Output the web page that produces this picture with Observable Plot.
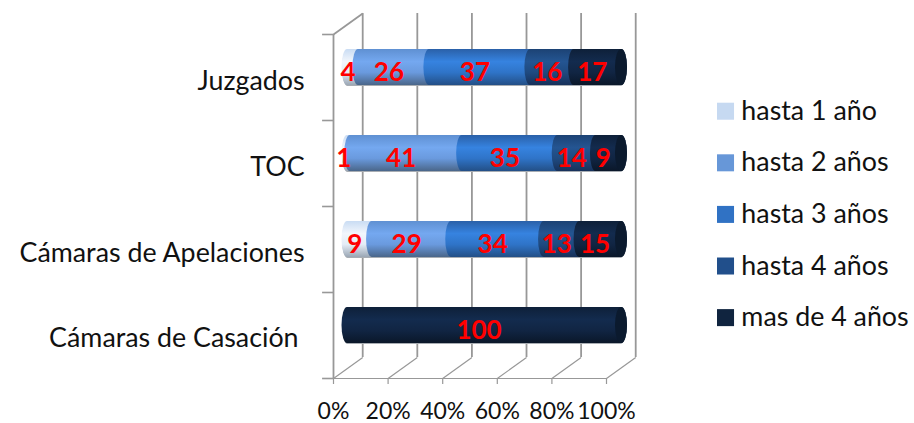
<!DOCTYPE html>
<html><head><meta charset="utf-8">
<script src="https://cdn.jsdelivr.net/npm/d3@7"></script>
<script src="https://cdn.jsdelivr.net/npm/@observablehq/plot@0.6"></script>
<style>html,body{margin:0;padding:0;background:#fff}svg{display:block;overflow:visible}</style>
</head><body><div id="chart"></div>
<script>
const categories = ["Cámaras de Casación","Cámaras de Apelaciones","TOC","Juzgados"];
const seriesNames = ["hasta 1 año","hasta 2 años","hasta 3 años","hasta 4 años","mas de 4 años"];
const hasta1 = [0,9,1,4];
const hasta2 = [0,29,41,26];
const hasta3 = [0,34,35,37];
const hasta4 = [0,13,14,16];
const mas4   = [100,15,9,17];
const seriesValues = [hasta1,hasta2,hasta3,hasta4,mas4];
const swatchColors = ["#c6d9f1","#6797d8","#3072c4","#214f8b","#10243f"];
const gradients = [
  ["#c9dcf3","#f2f6fc","#e4ecf6","#9aa6b4"],
  ["#5f90d2","#74a8f0","#6a9ade","#4a6689"],
  ["#2a60a8","#3683e0","#2f74c8","#234f86"],
  ["#1c4274","#245592","#1f4a80","#17315a"],
  ["#0e2039","#132b4e","#112543","#0a1729"]
];
const capColor = "#0b1a2e";
const xTicks = [0,20,40,60,80,100];
const rowTicks = [0,1,2,3,4];

const depthX = 10.7, depthY = 0.244;
const segs = seriesNames.map((s,si)=>{
  const out=[];
  categories.forEach((c,ci)=>{
    const v=seriesValues[si][ci];
    if(v>0){
      let a=0; for(let k=0;k<si;k++) a+=seriesValues[k][ci];
      out.push({row:ci,start:a,end:a+v,value:v,series:s});
    }
  });
  return out;
});
const barOpts = {x1:"start",x2:"end",y1:d=>d.row+0.29,y2:d=>d.row+0.71,dx:14,dy:-10,
  insetLeft:-5.5,insetRight:-5.5,rx:5.5,ry:18};
const rows = categories.map((c,i)=>({row:i,name:c}));
const gridColor="#989898";
const font="Lato, Carlito, sans-serif";

const marks=[
  Plot.ruleX(xTicks,{x:d=>d+depthX,y1:depthY,y2:4+depthY,stroke:gridColor,strokeWidth:1.8,strokeOpacity:1}),
  Plot.link(xTicks,{x1:d=>d,y1:0,x2:d=>d+depthX,y2:depthY,stroke:gridColor,strokeWidth:1.2,strokeOpacity:1}),
  Plot.ruleX([0],{y1:0,y2:4,stroke:gridColor,strokeWidth:1.8,strokeOpacity:1}),
  Plot.link([0],{x1:0,y1:4,x2:depthX,y2:4+depthY,stroke:gridColor,strokeWidth:1.8,strokeOpacity:1}),
  Plot.ruleY([0],{x1:0,x2:100,stroke:gridColor,strokeWidth:1.2,strokeOpacity:1}),
  Plot.ruleX(xTicks,{x:d=>d,y1:0,y2:-0.07,stroke:gridColor,strokeWidth:1.2,strokeOpacity:1}),
  Plot.ruleY(rowTicks,{x1:-4,x2:0,stroke:gridColor,strokeWidth:1.6,strokeOpacity:1}),
  Plot.rect(rows,{x1:()=>0,x2:()=>100,y1:d=>d.row+0.29,y2:d=>d.row+0.71,dx:14,dy:-9,insetLeft:-5,insetRight:-6,rx:5.5,ry:18,fill:"#a8adb3"}),
];
segs.forEach((data,i)=>{
  marks.push(Plot.rect(data,{...barOpts,insetRight:i===4?-7:-5.5,fill:`url(#grad${i})`}));
});
marks.push(Plot.rect(rows,{x1:()=>100,x2:()=>100,y1:d=>d.row+0.29,y2:d=>d.row+0.71,dx:15,dy:-10,insetLeft:-6,insetRight:-6,rx:6,ry:18,fill:capColor}));
marks.push(Plot.text(segs.flat(),{x:d=>(d.start+d.end)/2,y:d=>d.row+0.5,text:d=>String(d.value),dx:9,dy:-4.5,
  fill:"#ff0000",fontSize:26,fontWeight:700,fontFamily:font,textAnchor:"middle",lineAnchor:"middle"}));
marks.push(Plot.text(rows.filter(d=>d.row>0),{x:()=>-10.6,y:d=>d.row+0.5,text:"name",dy:4,fill:"#111",fontSize:26.8,fontFamily:font,textAnchor:"end",lineAnchor:"middle"}));
marks.push(Plot.text(rows.filter(d=>d.row===0),{x:()=>-10.6,y:d=>d.row+0.5,text:"name",dx:-6,dy:3,fill:"#111",fontSize:26.8,fontFamily:font,textAnchor:"end",lineAnchor:"middle"}));
marks.push(Plot.text(xTicks,{x:d=>d,y:-0.39,text:d=>d+"%",fill:"#111",fontSize:23,fontFamily:font,textAnchor:"middle",lineAnchor:"middle"}));
const legend = seriesNames.map((s,i)=>({s,i}));
marks.push(Plot.dot(legend,{x:()=>143.6,y:d=>3.108-d.i*0.6,symbol:"square",r:9.6,fill:d=>swatchColors[d.i],stroke:"none"}));
marks.push(Plot.text(legend,{x:()=>149.4,y:d=>3.108-d.i*0.6,text:"s",fill:"#111",fontSize:26.8,fontFamily:font,textAnchor:"start",lineAnchor:"middle"}));
marks.push(()=>{
  const ns="http://www.w3.org/2000/svg";
  const defs=document.createElementNS(ns,"defs");
  gradients.forEach((g,i)=>{
    const lg=document.createElementNS(ns,"linearGradient");
    lg.setAttribute("id","grad"+i);lg.setAttribute("x1","0");lg.setAttribute("x2","0");lg.setAttribute("y1","0");lg.setAttribute("y2","1");
    [0,0.35,0.65,1].forEach((o,k)=>{
      const st=document.createElementNS(ns,"stop");st.setAttribute("offset",o);st.setAttribute("stop-color",g[k]);lg.appendChild(st);
    });
    defs.appendChild(lg);
  });
  return defs;
});

const chart=Plot.plot({
  width:914,height:423,marginLeft:333,marginRight:308,marginTop:34,marginBottom:45,
  x:{domain:[0,100],axis:null},
  y:{domain:[0,4],axis:null},
  color:{type:"identity"},
  style:{background:"#fff",overflow:"visible"},
  marks
});
document.getElementById("chart").appendChild(chart);
</script></body></html>
